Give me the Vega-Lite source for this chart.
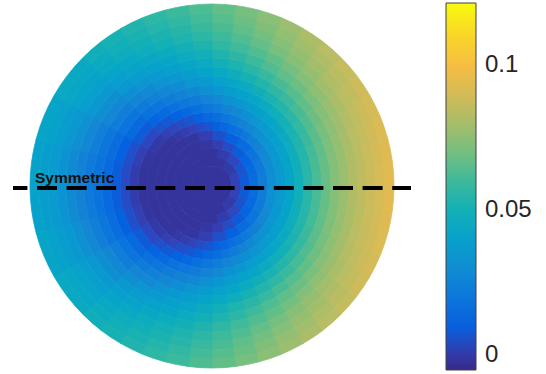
{
"$schema": "https://vega.github.io/schema/vega-lite/v6.json",
"width": 424, "height": 372,
"autosize": {"type": "none"},
"padding": {"left": 0, "top": 0, "right": 122, "bottom": 2},
"background": "white",
"config": {"view": {"stroke": null}},
"datasets": {"cells": [
{"t":-180,"t2":180,"r":0,"r2":20,"v":-0.002},
{"t":0,"t2":30,"r":20,"r2":29,"v":0.0023},{"t":30,"t2":60,"r":20,"r2":29,"v":0.0001},{"t":60,"t2":300,"r":20,"r2":29,"v":-0.002},{"t":-30,"t2":0,"r":20,"r2":29,"v":0.0023},{"t":-60,"t2":-30,"r":20,"r2":29,"v":0.0001},
{"t":0,"t2":20,"r":29,"r2":38,"v":0.0088},{"t":20,"t2":40,"r":29,"r2":38,"v":0.0068},{"t":40,"t2":60,"r":29,"r2":38,"v":0.0038},{"t":60,"t2":80,"r":29,"r2":38,"v":0.0005},{"t":80,"t2":280,"r":29,"r2":38,"v":-0.002},
{"t":-20,"t2":0,"r":29,"r2":38,"v":0.0088},{"t":-40,"t2":-20,"r":29,"r2":38,"v":0.0068},{"t":-60,"t2":-40,"r":29,"r2":38,"v":0.0038},{"t":-80,"t2":-60,"r":29,"r2":38,"v":0.0005},
{"t":0,"t2":15,"r":38,"r2":47,"v":0.0153},{"t":15,"t2":30,"r":38,"r2":47,"v":0.0141},{"t":30,"t2":45,"r":38,"r2":47,"v":0.0115},{"t":45,"t2":60,"r":38,"r2":47,"v":0.0089},{"t":60,"t2":75,"r":38,"r2":47,"v":0.005},{"t":75,"t2":90,"r":38,"r2":47,"v":0.0013},{"t":90,"t2":105,"r":38,"r2":47,"v":-0.0012},{"t":105,"t2":255,"r":38,"r2":47,"v":-0.002},
{"t":-15,"t2":0,"r":38,"r2":47,"v":0.0153},{"t":-30,"t2":-15,"r":38,"r2":47,"v":0.0141},{"t":-45,"t2":-30,"r":38,"r2":47,"v":0.0115},{"t":-60,"t2":-45,"r":38,"r2":47,"v":0.0089},{"t":-75,"t2":-60,"r":38,"r2":47,"v":0.005},{"t":-90,"t2":-75,"r":38,"r2":47,"v":0.0013},{"t":-105,"t2":-90,"r":38,"r2":47,"v":-0.0012},
{"t":0,"t2":15,"r":47,"r2":56,"v":0.0231},{"t":15,"t2":30,"r":47,"r2":56,"v":0.0213},{"t":30,"t2":45,"r":47,"r2":56,"v":0.0187},{"t":45,"t2":60,"r":47,"r2":56,"v":0.0151},{"t":60,"t2":75,"r":47,"r2":56,"v":0.0105},{"t":75,"t2":90,"r":47,"r2":56,"v":0.0059},{"t":90,"t2":105,"r":47,"r2":56,"v":0.0013},{"t":105,"t2":120,"r":47,"r2":56,"v":-0.0014},{"t":120,"t2":240,"r":47,"r2":56,"v":-0.002},
{"t":-15,"t2":0,"r":47,"r2":56,"v":0.0231},{"t":-30,"t2":-15,"r":47,"r2":56,"v":0.0213},{"t":-45,"t2":-30,"r":47,"r2":56,"v":0.0187},{"t":-60,"t2":-45,"r":47,"r2":56,"v":0.0151},{"t":-75,"t2":-60,"r":47,"r2":56,"v":0.0105},{"t":-90,"t2":-75,"r":47,"r2":56,"v":0.0059},{"t":-105,"t2":-90,"r":47,"r2":56,"v":0.0013},{"t":-120,"t2":-105,"r":47,"r2":56,"v":-0.0014},
{"t":0,"t2":7.5,"r":56,"r2":65,"v":0.0313},{"t":7.5,"t2":15,"r":56,"r2":65,"v":0.0309},{"t":15,"t2":22.5,"r":56,"r2":65,"v":0.0302},{"t":22.5,"t2":30,"r":56,"r2":65,"v":0.0291},{"t":30,"t2":37.5,"r":56,"r2":65,"v":0.0276},{"t":37.5,"t2":45,"r":56,"r2":65,"v":0.0257},{"t":45,"t2":52.5,"r":56,"r2":65,"v":0.0236},{"t":52.5,"t2":60,"r":56,"r2":65,"v":0.021},{"t":60,"t2":67.5,"r":56,"r2":65,"v":0.0183},{"t":67.5,"t2":75,"r":56,"r2":65,"v":0.0157},{"t":75,"t2":82.5,"r":56,"r2":65,"v":0.0129},{"t":82.5,"t2":90,"r":56,"r2":65,"v":0.0101},
{"t":90,"t2":97.5,"r":56,"r2":65,"v":0.0074},{"t":97.5,"t2":105,"r":56,"r2":65,"v":0.0049},{"t":105,"t2":112.5,"r":56,"r2":65,"v":0.0026},{"t":112.5,"t2":120,"r":56,"r2":65,"v":0.0007},{"t":120,"t2":127.5,"r":56,"r2":65,"v":-0.0006},{"t":127.5,"t2":135,"r":56,"r2":65,"v":-0.0014},{"t":135,"t2":225,"r":56,"r2":65,"v":-0.002},
{"t":-7.5,"t2":0,"r":56,"r2":65,"v":0.0313},{"t":-15,"t2":-7.5,"r":56,"r2":65,"v":0.0309},{"t":-22.5,"t2":-15,"r":56,"r2":65,"v":0.0302},{"t":-30,"t2":-22.5,"r":56,"r2":65,"v":0.0291},{"t":-37.5,"t2":-30,"r":56,"r2":65,"v":0.0276},{"t":-45,"t2":-37.5,"r":56,"r2":65,"v":0.0257},{"t":-52.5,"t2":-45,"r":56,"r2":65,"v":0.0236},{"t":-60,"t2":-52.5,"r":56,"r2":65,"v":0.021},{"t":-67.5,"t2":-60,"r":56,"r2":65,"v":0.0183},{"t":-75,"t2":-67.5,"r":56,"r2":65,"v":0.0157},{"t":-82.5,"t2":-75,"r":56,"r2":65,"v":0.0129},{"t":-90,"t2":-82.5,"r":56,"r2":65,"v":0.0101},
{"t":-97.5,"t2":-90,"r":56,"r2":65,"v":0.0074},{"t":-105,"t2":-97.5,"r":56,"r2":65,"v":0.0049},{"t":-112.5,"t2":-105,"r":56,"r2":65,"v":0.0026},{"t":-120,"t2":-112.5,"r":56,"r2":65,"v":0.0007},{"t":-127.5,"t2":-120,"r":56,"r2":65,"v":-0.0006},{"t":-135,"t2":-127.5,"r":56,"r2":65,"v":-0.0014},
{"t":0,"t2":7.5,"r":65,"r2":74,"v":0.0365},{"t":7.5,"t2":15,"r":65,"r2":74,"v":0.0362},{"t":15,"t2":22.5,"r":65,"r2":74,"v":0.0357},{"t":22.5,"t2":30,"r":65,"r2":74,"v":0.0351},{"t":30,"t2":37.5,"r":65,"r2":74,"v":0.034},{"t":37.5,"t2":45,"r":65,"r2":74,"v":0.0326},{"t":45,"t2":52.5,"r":65,"r2":74,"v":0.0305},{"t":52.5,"t2":60,"r":65,"r2":74,"v":0.0283},{"t":60,"t2":67.5,"r":65,"r2":74,"v":0.0255},{"t":67.5,"t2":75,"r":65,"r2":74,"v":0.0226},{"t":75,"t2":82.5,"r":65,"r2":74,"v":0.0196},{"t":82.5,"t2":90,"r":65,"r2":74,"v":0.0162},
{"t":90,"t2":97.5,"r":65,"r2":74,"v":0.0132},{"t":97.5,"t2":105,"r":65,"r2":74,"v":0.0103},{"t":105,"t2":112.5,"r":65,"r2":74,"v":0.0076},{"t":112.5,"t2":120,"r":65,"r2":74,"v":0.0055},{"t":120,"t2":127.5,"r":65,"r2":74,"v":0.0035},{"t":127.5,"t2":135,"r":65,"r2":74,"v":0.0017},{"t":135,"t2":150,"r":65,"r2":74,"v":-0.0002},{"t":150,"t2":165,"r":65,"r2":74,"v":-0.0015},{"t":165,"t2":180,"r":65,"r2":74,"v":-0.002},
{"t":-7.5,"t2":0,"r":65,"r2":74,"v":0.0365},{"t":-15,"t2":-7.5,"r":65,"r2":74,"v":0.0362},{"t":-22.5,"t2":-15,"r":65,"r2":74,"v":0.0357},{"t":-30,"t2":-22.5,"r":65,"r2":74,"v":0.0351},{"t":-37.5,"t2":-30,"r":65,"r2":74,"v":0.034},{"t":-45,"t2":-37.5,"r":65,"r2":74,"v":0.0326},{"t":-52.5,"t2":-45,"r":65,"r2":74,"v":0.0305},{"t":-60,"t2":-52.5,"r":65,"r2":74,"v":0.0283},{"t":-67.5,"t2":-60,"r":65,"r2":74,"v":0.0255},{"t":-75,"t2":-67.5,"r":65,"r2":74,"v":0.0226},{"t":-82.5,"t2":-75,"r":65,"r2":74,"v":0.0196},{"t":-90,"t2":-82.5,"r":65,"r2":74,"v":0.0162},
{"t":-97.5,"t2":-90,"r":65,"r2":74,"v":0.0132},{"t":-105,"t2":-97.5,"r":65,"r2":74,"v":0.0103},{"t":-112.5,"t2":-105,"r":65,"r2":74,"v":0.0076},{"t":-120,"t2":-112.5,"r":65,"r2":74,"v":0.0055},{"t":-127.5,"t2":-120,"r":65,"r2":74,"v":0.0035},{"t":-135,"t2":-127.5,"r":65,"r2":74,"v":0.0017},{"t":-150,"t2":-135,"r":65,"r2":74,"v":-0.0002},{"t":-165,"t2":-150,"r":65,"r2":74,"v":-0.0015},{"t":-180,"t2":-165,"r":65,"r2":74,"v":-0.002},
{"t":0,"t2":7.5,"r":74,"r2":83,"v":0.0422},{"t":7.5,"t2":15,"r":74,"r2":83,"v":0.0419},{"t":15,"t2":22.5,"r":74,"r2":83,"v":0.0413},{"t":22.5,"t2":30,"r":74,"r2":83,"v":0.0404},{"t":30,"t2":37.5,"r":74,"r2":83,"v":0.0393},{"t":37.5,"t2":45,"r":74,"r2":83,"v":0.0376},{"t":45,"t2":52.5,"r":74,"r2":83,"v":0.0359},{"t":52.5,"t2":60,"r":74,"r2":83,"v":0.0337},{"t":60,"t2":67.5,"r":74,"r2":83,"v":0.0316},{"t":67.5,"t2":75,"r":74,"r2":83,"v":0.0291},{"t":75,"t2":82.5,"r":74,"r2":83,"v":0.026},{"t":82.5,"t2":90,"r":74,"r2":83,"v":0.0228},
{"t":90,"t2":97.5,"r":74,"r2":83,"v":0.0198},{"t":97.5,"t2":105,"r":74,"r2":83,"v":0.0166},{"t":105,"t2":112.5,"r":74,"r2":83,"v":0.0135},{"t":112.5,"t2":120,"r":74,"r2":83,"v":0.011},{"t":120,"t2":127.5,"r":74,"r2":83,"v":0.0085},{"t":127.5,"t2":135,"r":74,"r2":83,"v":0.0065},{"t":135,"t2":150,"r":74,"r2":83,"v":0.004},{"t":150,"t2":165,"r":74,"r2":83,"v":0.0017},{"t":165,"t2":180,"r":74,"r2":83,"v":0.0005},
{"t":-7.5,"t2":0,"r":74,"r2":83,"v":0.0422},{"t":-15,"t2":-7.5,"r":74,"r2":83,"v":0.0419},{"t":-22.5,"t2":-15,"r":74,"r2":83,"v":0.0413},{"t":-30,"t2":-22.5,"r":74,"r2":83,"v":0.0404},{"t":-37.5,"t2":-30,"r":74,"r2":83,"v":0.0393},{"t":-45,"t2":-37.5,"r":74,"r2":83,"v":0.0376},{"t":-52.5,"t2":-45,"r":74,"r2":83,"v":0.0359},{"t":-60,"t2":-52.5,"r":74,"r2":83,"v":0.0337},{"t":-67.5,"t2":-60,"r":74,"r2":83,"v":0.0316},{"t":-75,"t2":-67.5,"r":74,"r2":83,"v":0.0291},{"t":-82.5,"t2":-75,"r":74,"r2":83,"v":0.026},{"t":-90,"t2":-82.5,"r":74,"r2":83,"v":0.0228},
{"t":-97.5,"t2":-90,"r":74,"r2":83,"v":0.0198},{"t":-105,"t2":-97.5,"r":74,"r2":83,"v":0.0166},{"t":-112.5,"t2":-105,"r":74,"r2":83,"v":0.0135},{"t":-120,"t2":-112.5,"r":74,"r2":83,"v":0.011},{"t":-127.5,"t2":-120,"r":74,"r2":83,"v":0.0085},{"t":-135,"t2":-127.5,"r":74,"r2":83,"v":0.0065},{"t":-150,"t2":-135,"r":74,"r2":83,"v":0.004},{"t":-165,"t2":-150,"r":74,"r2":83,"v":0.0017},{"t":-180,"t2":-165,"r":74,"r2":83,"v":0.0005},
{"t":0,"t2":7.5,"r":83,"r2":92,"v":0.0492},{"t":7.5,"t2":15,"r":83,"r2":92,"v":0.0488},{"t":15,"t2":22.5,"r":83,"r2":92,"v":0.0482},{"t":22.5,"t2":30,"r":83,"r2":92,"v":0.0471},{"t":30,"t2":37.5,"r":83,"r2":92,"v":0.0457},{"t":37.5,"t2":45,"r":83,"r2":92,"v":0.0439},{"t":45,"t2":52.5,"r":83,"r2":92,"v":0.0417},{"t":52.5,"t2":60,"r":83,"r2":92,"v":0.0396},{"t":60,"t2":67.5,"r":83,"r2":92,"v":0.0372},{"t":67.5,"t2":75,"r":83,"r2":92,"v":0.0345},{"t":75,"t2":82.5,"r":83,"r2":92,"v":0.0318},{"t":82.5,"t2":90,"r":83,"r2":92,"v":0.0289},
{"t":90,"t2":97.5,"r":83,"r2":92,"v":0.026},{"t":97.5,"t2":105,"r":83,"r2":92,"v":0.0227},{"t":105,"t2":112.5,"r":83,"r2":92,"v":0.0198},{"t":112.5,"t2":120,"r":83,"r2":92,"v":0.0171},{"t":120,"t2":127.5,"r":83,"r2":92,"v":0.014},{"t":127.5,"t2":135,"r":83,"r2":92,"v":0.0117},{"t":135,"t2":150,"r":83,"r2":92,"v":0.0088},{"t":150,"t2":165,"r":83,"r2":92,"v":0.006},{"t":165,"t2":180,"r":83,"r2":92,"v":0.0047},
{"t":-7.5,"t2":0,"r":83,"r2":92,"v":0.0492},{"t":-15,"t2":-7.5,"r":83,"r2":92,"v":0.0488},{"t":-22.5,"t2":-15,"r":83,"r2":92,"v":0.0482},{"t":-30,"t2":-22.5,"r":83,"r2":92,"v":0.0471},{"t":-37.5,"t2":-30,"r":83,"r2":92,"v":0.0457},{"t":-45,"t2":-37.5,"r":83,"r2":92,"v":0.0439},{"t":-52.5,"t2":-45,"r":83,"r2":92,"v":0.0417},{"t":-60,"t2":-52.5,"r":83,"r2":92,"v":0.0396},{"t":-67.5,"t2":-60,"r":83,"r2":92,"v":0.0372},{"t":-75,"t2":-67.5,"r":83,"r2":92,"v":0.0345},{"t":-82.5,"t2":-75,"r":83,"r2":92,"v":0.0318},{"t":-90,"t2":-82.5,"r":83,"r2":92,"v":0.0289},
{"t":-97.5,"t2":-90,"r":83,"r2":92,"v":0.026},{"t":-105,"t2":-97.5,"r":83,"r2":92,"v":0.0227},{"t":-112.5,"t2":-105,"r":83,"r2":92,"v":0.0198},{"t":-120,"t2":-112.5,"r":83,"r2":92,"v":0.0171},{"t":-127.5,"t2":-120,"r":83,"r2":92,"v":0.014},{"t":-135,"t2":-127.5,"r":83,"r2":92,"v":0.0117},{"t":-150,"t2":-135,"r":83,"r2":92,"v":0.0088},{"t":-165,"t2":-150,"r":83,"r2":92,"v":0.006},{"t":-180,"t2":-165,"r":83,"r2":92,"v":0.0047},
{"t":0,"t2":7.5,"r":92,"r2":101,"v":0.056},{"t":7.5,"t2":15,"r":92,"r2":101,"v":0.0556},{"t":15,"t2":22.5,"r":92,"r2":101,"v":0.0548},{"t":22.5,"t2":30,"r":92,"r2":101,"v":0.0537},{"t":30,"t2":37.5,"r":92,"r2":101,"v":0.0522},{"t":37.5,"t2":45,"r":92,"r2":101,"v":0.0504},{"t":45,"t2":52.5,"r":92,"r2":101,"v":0.0482},{"t":52.5,"t2":60,"r":92,"r2":101,"v":0.0458},{"t":60,"t2":67.5,"r":92,"r2":101,"v":0.0433},{"t":67.5,"t2":75,"r":92,"r2":101,"v":0.0404},{"t":75,"t2":82.5,"r":92,"r2":101,"v":0.0375},{"t":82.5,"t2":90,"r":92,"r2":101,"v":0.0345},
{"t":90,"t2":97.5,"r":92,"r2":101,"v":0.0314},{"t":97.5,"t2":105,"r":92,"r2":101,"v":0.0283},{"t":105,"t2":112.5,"r":92,"r2":101,"v":0.0255},{"t":112.5,"t2":120,"r":92,"r2":101,"v":0.0225},{"t":120,"t2":127.5,"r":92,"r2":101,"v":0.0197},{"t":127.5,"t2":135,"r":92,"r2":101,"v":0.0172},{"t":135,"t2":150,"r":92,"r2":101,"v":0.014},{"t":150,"t2":165,"r":92,"r2":101,"v":0.0107},{"t":165,"t2":180,"r":92,"r2":101,"v":0.0094},
{"t":-7.5,"t2":0,"r":92,"r2":101,"v":0.056},{"t":-15,"t2":-7.5,"r":92,"r2":101,"v":0.0556},{"t":-22.5,"t2":-15,"r":92,"r2":101,"v":0.0548},{"t":-30,"t2":-22.5,"r":92,"r2":101,"v":0.0537},{"t":-37.5,"t2":-30,"r":92,"r2":101,"v":0.0522},{"t":-45,"t2":-37.5,"r":92,"r2":101,"v":0.0504},{"t":-52.5,"t2":-45,"r":92,"r2":101,"v":0.0482},{"t":-60,"t2":-52.5,"r":92,"r2":101,"v":0.0458},{"t":-67.5,"t2":-60,"r":92,"r2":101,"v":0.0433},{"t":-75,"t2":-67.5,"r":92,"r2":101,"v":0.0404},{"t":-82.5,"t2":-75,"r":92,"r2":101,"v":0.0375},{"t":-90,"t2":-82.5,"r":92,"r2":101,"v":0.0345},
{"t":-97.5,"t2":-90,"r":92,"r2":101,"v":0.0314},{"t":-105,"t2":-97.5,"r":92,"r2":101,"v":0.0283},{"t":-112.5,"t2":-105,"r":92,"r2":101,"v":0.0255},{"t":-120,"t2":-112.5,"r":92,"r2":101,"v":0.0225},{"t":-127.5,"t2":-120,"r":92,"r2":101,"v":0.0197},{"t":-135,"t2":-127.5,"r":92,"r2":101,"v":0.0172},{"t":-150,"t2":-135,"r":92,"r2":101,"v":0.014},{"t":-165,"t2":-150,"r":92,"r2":101,"v":0.0107},{"t":-180,"t2":-165,"r":92,"r2":101,"v":0.0094},
{"t":0,"t2":7.5,"r":101,"r2":110,"v":0.0622},{"t":7.5,"t2":15,"r":101,"r2":110,"v":0.0618},{"t":15,"t2":22.5,"r":101,"r2":110,"v":0.061},{"t":22.5,"t2":30,"r":101,"r2":110,"v":0.0598},{"t":30,"t2":37.5,"r":101,"r2":110,"v":0.0581},{"t":37.5,"t2":45,"r":101,"r2":110,"v":0.0563},{"t":45,"t2":52.5,"r":101,"r2":110,"v":0.0541},{"t":52.5,"t2":60,"r":101,"r2":110,"v":0.0516},{"t":60,"t2":67.5,"r":101,"r2":110,"v":0.049},{"t":67.5,"t2":75,"r":101,"r2":110,"v":0.046},{"t":75,"t2":82.5,"r":101,"r2":110,"v":0.043},{"t":82.5,"t2":90,"r":101,"r2":110,"v":0.04},
{"t":90,"t2":97.5,"r":101,"r2":110,"v":0.0367},{"t":97.5,"t2":105,"r":101,"r2":110,"v":0.0336},{"t":105,"t2":112.5,"r":101,"r2":110,"v":0.0304},{"t":112.5,"t2":120,"r":101,"r2":110,"v":0.0273},{"t":120,"t2":127.5,"r":101,"r2":110,"v":0.0246},{"t":127.5,"t2":135,"r":101,"r2":110,"v":0.022},{"t":135,"t2":150,"r":101,"r2":110,"v":0.0186},{"t":150,"t2":165,"r":101,"r2":110,"v":0.0156},{"t":165,"t2":180,"r":101,"r2":110,"v":0.0141},
{"t":-7.5,"t2":0,"r":101,"r2":110,"v":0.0622},{"t":-15,"t2":-7.5,"r":101,"r2":110,"v":0.0618},{"t":-22.5,"t2":-15,"r":101,"r2":110,"v":0.061},{"t":-30,"t2":-22.5,"r":101,"r2":110,"v":0.0598},{"t":-37.5,"t2":-30,"r":101,"r2":110,"v":0.0581},{"t":-45,"t2":-37.5,"r":101,"r2":110,"v":0.0563},{"t":-52.5,"t2":-45,"r":101,"r2":110,"v":0.0541},{"t":-60,"t2":-52.5,"r":101,"r2":110,"v":0.0516},{"t":-67.5,"t2":-60,"r":101,"r2":110,"v":0.049},{"t":-75,"t2":-67.5,"r":101,"r2":110,"v":0.046},{"t":-82.5,"t2":-75,"r":101,"r2":110,"v":0.043},{"t":-90,"t2":-82.5,"r":101,"r2":110,"v":0.04},
{"t":-97.5,"t2":-90,"r":101,"r2":110,"v":0.0367},{"t":-105,"t2":-97.5,"r":101,"r2":110,"v":0.0336},{"t":-112.5,"t2":-105,"r":101,"r2":110,"v":0.0304},{"t":-120,"t2":-112.5,"r":101,"r2":110,"v":0.0273},{"t":-127.5,"t2":-120,"r":101,"r2":110,"v":0.0246},{"t":-135,"t2":-127.5,"r":101,"r2":110,"v":0.022},{"t":-150,"t2":-135,"r":101,"r2":110,"v":0.0186},{"t":-165,"t2":-150,"r":101,"r2":110,"v":0.0156},{"t":-180,"t2":-165,"r":101,"r2":110,"v":0.0141},
{"t":0,"t2":7.5,"r":110,"r2":119,"v":0.0677},{"t":7.5,"t2":15,"r":110,"r2":119,"v":0.0672},{"t":15,"t2":22.5,"r":110,"r2":119,"v":0.0664},{"t":22.5,"t2":30,"r":110,"r2":119,"v":0.0653},{"t":30,"t2":37.5,"r":110,"r2":119,"v":0.0636},{"t":37.5,"t2":45,"r":110,"r2":119,"v":0.0617},{"t":45,"t2":52.5,"r":110,"r2":119,"v":0.0595},{"t":52.5,"t2":60,"r":110,"r2":119,"v":0.0571},{"t":60,"t2":67.5,"r":110,"r2":119,"v":0.0541},{"t":67.5,"t2":75,"r":110,"r2":119,"v":0.0511},{"t":75,"t2":82.5,"r":110,"r2":119,"v":0.048},{"t":82.5,"t2":90,"r":110,"r2":119,"v":0.0449},
{"t":90,"t2":97.5,"r":110,"r2":119,"v":0.0416},{"t":97.5,"t2":105,"r":110,"r2":119,"v":0.0384},{"t":105,"t2":112.5,"r":110,"r2":119,"v":0.0354},{"t":112.5,"t2":120,"r":110,"r2":119,"v":0.0321},{"t":120,"t2":127.5,"r":110,"r2":119,"v":0.0291},{"t":127.5,"t2":135,"r":110,"r2":119,"v":0.0266},{"t":135,"t2":150,"r":110,"r2":119,"v":0.0228},{"t":150,"t2":165,"r":110,"r2":119,"v":0.0195},{"t":165,"t2":180,"r":110,"r2":119,"v":0.0179},
{"t":-7.5,"t2":0,"r":110,"r2":119,"v":0.0677},{"t":-15,"t2":-7.5,"r":110,"r2":119,"v":0.0672},{"t":-22.5,"t2":-15,"r":110,"r2":119,"v":0.0664},{"t":-30,"t2":-22.5,"r":110,"r2":119,"v":0.0653},{"t":-37.5,"t2":-30,"r":110,"r2":119,"v":0.0636},{"t":-45,"t2":-37.5,"r":110,"r2":119,"v":0.0617},{"t":-52.5,"t2":-45,"r":110,"r2":119,"v":0.0595},{"t":-60,"t2":-52.5,"r":110,"r2":119,"v":0.0571},{"t":-67.5,"t2":-60,"r":110,"r2":119,"v":0.0541},{"t":-75,"t2":-67.5,"r":110,"r2":119,"v":0.0511},{"t":-82.5,"t2":-75,"r":110,"r2":119,"v":0.048},{"t":-90,"t2":-82.5,"r":110,"r2":119,"v":0.0449},
{"t":-97.5,"t2":-90,"r":110,"r2":119,"v":0.0416},{"t":-105,"t2":-97.5,"r":110,"r2":119,"v":0.0384},{"t":-112.5,"t2":-105,"r":110,"r2":119,"v":0.0354},{"t":-120,"t2":-112.5,"r":110,"r2":119,"v":0.0321},{"t":-127.5,"t2":-120,"r":110,"r2":119,"v":0.0291},{"t":-135,"t2":-127.5,"r":110,"r2":119,"v":0.0266},{"t":-150,"t2":-135,"r":110,"r2":119,"v":0.0228},{"t":-165,"t2":-150,"r":110,"r2":119,"v":0.0195},{"t":-180,"t2":-165,"r":110,"r2":119,"v":0.0179},
{"t":0,"t2":7.5,"r":119,"r2":128,"v":0.0728},{"t":7.5,"t2":15,"r":119,"r2":128,"v":0.0723},{"t":15,"t2":22.5,"r":119,"r2":128,"v":0.0715},{"t":22.5,"t2":30,"r":119,"r2":128,"v":0.0703},{"t":30,"t2":37.5,"r":119,"r2":128,"v":0.0688},{"t":37.5,"t2":45,"r":119,"r2":128,"v":0.0667},{"t":45,"t2":52.5,"r":119,"r2":128,"v":0.0644},{"t":52.5,"t2":60,"r":119,"r2":128,"v":0.0617},{"t":60,"t2":67.5,"r":119,"r2":128,"v":0.0589},{"t":67.5,"t2":75,"r":119,"r2":128,"v":0.0557},{"t":75,"t2":82.5,"r":119,"r2":128,"v":0.0527},{"t":82.5,"t2":90,"r":119,"r2":128,"v":0.0493},
{"t":90,"t2":97.5,"r":119,"r2":128,"v":0.0458},{"t":97.5,"t2":105,"r":119,"r2":128,"v":0.0426},{"t":105,"t2":112.5,"r":119,"r2":128,"v":0.0396},{"t":112.5,"t2":120,"r":119,"r2":128,"v":0.0365},{"t":120,"t2":127.5,"r":119,"r2":128,"v":0.0336},{"t":127.5,"t2":135,"r":119,"r2":128,"v":0.031},{"t":135,"t2":150,"r":119,"r2":128,"v":0.0271},{"t":150,"t2":165,"r":119,"r2":128,"v":0.0234},{"t":165,"t2":180,"r":119,"r2":128,"v":0.0216},
{"t":-7.5,"t2":0,"r":119,"r2":128,"v":0.0728},{"t":-15,"t2":-7.5,"r":119,"r2":128,"v":0.0723},{"t":-22.5,"t2":-15,"r":119,"r2":128,"v":0.0715},{"t":-30,"t2":-22.5,"r":119,"r2":128,"v":0.0703},{"t":-37.5,"t2":-30,"r":119,"r2":128,"v":0.0688},{"t":-45,"t2":-37.5,"r":119,"r2":128,"v":0.0667},{"t":-52.5,"t2":-45,"r":119,"r2":128,"v":0.0644},{"t":-60,"t2":-52.5,"r":119,"r2":128,"v":0.0617},{"t":-67.5,"t2":-60,"r":119,"r2":128,"v":0.0589},{"t":-75,"t2":-67.5,"r":119,"r2":128,"v":0.0557},{"t":-82.5,"t2":-75,"r":119,"r2":128,"v":0.0527},{"t":-90,"t2":-82.5,"r":119,"r2":128,"v":0.0493},
{"t":-97.5,"t2":-90,"r":119,"r2":128,"v":0.0458},{"t":-105,"t2":-97.5,"r":119,"r2":128,"v":0.0426},{"t":-112.5,"t2":-105,"r":119,"r2":128,"v":0.0396},{"t":-120,"t2":-112.5,"r":119,"r2":128,"v":0.0365},{"t":-127.5,"t2":-120,"r":119,"r2":128,"v":0.0336},{"t":-135,"t2":-127.5,"r":119,"r2":128,"v":0.031},{"t":-150,"t2":-135,"r":119,"r2":128,"v":0.0271},{"t":-165,"t2":-150,"r":119,"r2":128,"v":0.0234},{"t":-180,"t2":-165,"r":119,"r2":128,"v":0.0216},
{"t":0,"t2":7.5,"r":128,"r2":137,"v":0.0772},{"t":7.5,"t2":15,"r":128,"r2":137,"v":0.0767},{"t":15,"t2":22.5,"r":128,"r2":137,"v":0.0759},{"t":22.5,"t2":30,"r":128,"r2":137,"v":0.0746},{"t":30,"t2":37.5,"r":128,"r2":137,"v":0.073},{"t":37.5,"t2":45,"r":128,"r2":137,"v":0.071},{"t":45,"t2":52.5,"r":128,"r2":137,"v":0.0686},{"t":52.5,"t2":60,"r":128,"r2":137,"v":0.0661},{"t":60,"t2":67.5,"r":128,"r2":137,"v":0.0633},{"t":67.5,"t2":75,"r":128,"r2":137,"v":0.06},{"t":75,"t2":82.5,"r":128,"r2":137,"v":0.0566},{"t":82.5,"t2":90,"r":128,"r2":137,"v":0.0532},
{"t":90,"t2":97.5,"r":128,"r2":137,"v":0.0498},{"t":97.5,"t2":105,"r":128,"r2":137,"v":0.0464},{"t":105,"t2":112.5,"r":128,"r2":137,"v":0.0432},{"t":112.5,"t2":120,"r":128,"r2":137,"v":0.0403},{"t":120,"t2":127.5,"r":128,"r2":137,"v":0.0376},{"t":127.5,"t2":135,"r":128,"r2":137,"v":0.0348},{"t":135,"t2":150,"r":128,"r2":137,"v":0.0312},{"t":150,"t2":165,"r":128,"r2":137,"v":0.0276},{"t":165,"t2":180,"r":128,"r2":137,"v":0.0257},
{"t":-7.5,"t2":0,"r":128,"r2":137,"v":0.0772},{"t":-15,"t2":-7.5,"r":128,"r2":137,"v":0.0767},{"t":-22.5,"t2":-15,"r":128,"r2":137,"v":0.0759},{"t":-30,"t2":-22.5,"r":128,"r2":137,"v":0.0746},{"t":-37.5,"t2":-30,"r":128,"r2":137,"v":0.073},{"t":-45,"t2":-37.5,"r":128,"r2":137,"v":0.071},{"t":-52.5,"t2":-45,"r":128,"r2":137,"v":0.0686},{"t":-60,"t2":-52.5,"r":128,"r2":137,"v":0.0661},{"t":-67.5,"t2":-60,"r":128,"r2":137,"v":0.0633},{"t":-75,"t2":-67.5,"r":128,"r2":137,"v":0.06},{"t":-82.5,"t2":-75,"r":128,"r2":137,"v":0.0566},{"t":-90,"t2":-82.5,"r":128,"r2":137,"v":0.0532},
{"t":-97.5,"t2":-90,"r":128,"r2":137,"v":0.0498},{"t":-105,"t2":-97.5,"r":128,"r2":137,"v":0.0464},{"t":-112.5,"t2":-105,"r":128,"r2":137,"v":0.0432},{"t":-120,"t2":-112.5,"r":128,"r2":137,"v":0.0403},{"t":-127.5,"t2":-120,"r":128,"r2":137,"v":0.0376},{"t":-135,"t2":-127.5,"r":128,"r2":137,"v":0.0348},{"t":-150,"t2":-135,"r":128,"r2":137,"v":0.0312},{"t":-165,"t2":-150,"r":128,"r2":137,"v":0.0276},{"t":-180,"t2":-165,"r":128,"r2":137,"v":0.0257},
{"t":0,"t2":7.5,"r":137,"r2":146,"v":0.0814},{"t":7.5,"t2":15,"r":137,"r2":146,"v":0.0809},{"t":15,"t2":22.5,"r":137,"r2":146,"v":0.0801},{"t":22.5,"t2":30,"r":137,"r2":146,"v":0.0787},{"t":30,"t2":37.5,"r":137,"r2":146,"v":0.0771},{"t":37.5,"t2":45,"r":137,"r2":146,"v":0.075},{"t":45,"t2":52.5,"r":137,"r2":146,"v":0.0725},{"t":52.5,"t2":60,"r":137,"r2":146,"v":0.0698},{"t":60,"t2":67.5,"r":137,"r2":146,"v":0.0668},{"t":67.5,"t2":75,"r":137,"r2":146,"v":0.0636},{"t":75,"t2":82.5,"r":137,"r2":146,"v":0.0603},{"t":82.5,"t2":90,"r":137,"r2":146,"v":0.057},
{"t":90,"t2":97.5,"r":137,"r2":146,"v":0.0533},{"t":97.5,"t2":105,"r":137,"r2":146,"v":0.0498},{"t":105,"t2":112.5,"r":137,"r2":146,"v":0.0468},{"t":112.5,"t2":120,"r":137,"r2":146,"v":0.0439},{"t":120,"t2":127.5,"r":137,"r2":146,"v":0.0411},{"t":127.5,"t2":135,"r":137,"r2":146,"v":0.0383},{"t":135,"t2":150,"r":137,"r2":146,"v":0.0348},{"t":150,"t2":165,"r":137,"r2":146,"v":0.0314},{"t":165,"t2":180,"r":137,"r2":146,"v":0.0294},
{"t":-7.5,"t2":0,"r":137,"r2":146,"v":0.0814},{"t":-15,"t2":-7.5,"r":137,"r2":146,"v":0.0809},{"t":-22.5,"t2":-15,"r":137,"r2":146,"v":0.0801},{"t":-30,"t2":-22.5,"r":137,"r2":146,"v":0.0787},{"t":-37.5,"t2":-30,"r":137,"r2":146,"v":0.0771},{"t":-45,"t2":-37.5,"r":137,"r2":146,"v":0.075},{"t":-52.5,"t2":-45,"r":137,"r2":146,"v":0.0725},{"t":-60,"t2":-52.5,"r":137,"r2":146,"v":0.0698},{"t":-67.5,"t2":-60,"r":137,"r2":146,"v":0.0668},{"t":-75,"t2":-67.5,"r":137,"r2":146,"v":0.0636},{"t":-82.5,"t2":-75,"r":137,"r2":146,"v":0.0603},{"t":-90,"t2":-82.5,"r":137,"r2":146,"v":0.057},
{"t":-97.5,"t2":-90,"r":137,"r2":146,"v":0.0533},{"t":-105,"t2":-97.5,"r":137,"r2":146,"v":0.0498},{"t":-112.5,"t2":-105,"r":137,"r2":146,"v":0.0468},{"t":-120,"t2":-112.5,"r":137,"r2":146,"v":0.0439},{"t":-127.5,"t2":-120,"r":137,"r2":146,"v":0.0411},{"t":-135,"t2":-127.5,"r":137,"r2":146,"v":0.0383},{"t":-150,"t2":-135,"r":137,"r2":146,"v":0.0348},{"t":-165,"t2":-150,"r":137,"r2":146,"v":0.0314},{"t":-180,"t2":-165,"r":137,"r2":146,"v":0.0294},
{"t":0,"t2":7.5,"r":146,"r2":155,"v":0.085},{"t":7.5,"t2":15,"r":146,"r2":155,"v":0.0845},{"t":15,"t2":22.5,"r":146,"r2":155,"v":0.0836},{"t":22.5,"t2":30,"r":146,"r2":155,"v":0.0824},{"t":30,"t2":37.5,"r":146,"r2":155,"v":0.0807},{"t":37.5,"t2":45,"r":146,"r2":155,"v":0.0786},{"t":45,"t2":52.5,"r":146,"r2":155,"v":0.0761},{"t":52.5,"t2":60,"r":146,"r2":155,"v":0.0733},{"t":60,"t2":67.5,"r":146,"r2":155,"v":0.0702},{"t":67.5,"t2":75,"r":146,"r2":155,"v":0.0669},{"t":75,"t2":82.5,"r":146,"r2":155,"v":0.0634},{"t":82.5,"t2":90,"r":146,"r2":155,"v":0.0599},
{"t":90,"t2":97.5,"r":146,"r2":155,"v":0.0563},{"t":97.5,"t2":105,"r":146,"r2":155,"v":0.0529},{"t":105,"t2":112.5,"r":146,"r2":155,"v":0.0501},{"t":112.5,"t2":120,"r":146,"r2":155,"v":0.0471},{"t":120,"t2":127.5,"r":146,"r2":155,"v":0.0441},{"t":127.5,"t2":135,"r":146,"r2":155,"v":0.0415},{"t":135,"t2":150,"r":146,"r2":155,"v":0.0381},{"t":150,"t2":165,"r":146,"r2":155,"v":0.0347},{"t":165,"t2":180,"r":146,"r2":155,"v":0.0327},
{"t":-7.5,"t2":0,"r":146,"r2":155,"v":0.085},{"t":-15,"t2":-7.5,"r":146,"r2":155,"v":0.0845},{"t":-22.5,"t2":-15,"r":146,"r2":155,"v":0.0836},{"t":-30,"t2":-22.5,"r":146,"r2":155,"v":0.0824},{"t":-37.5,"t2":-30,"r":146,"r2":155,"v":0.0807},{"t":-45,"t2":-37.5,"r":146,"r2":155,"v":0.0786},{"t":-52.5,"t2":-45,"r":146,"r2":155,"v":0.0761},{"t":-60,"t2":-52.5,"r":146,"r2":155,"v":0.0733},{"t":-67.5,"t2":-60,"r":146,"r2":155,"v":0.0702},{"t":-75,"t2":-67.5,"r":146,"r2":155,"v":0.0669},{"t":-82.5,"t2":-75,"r":146,"r2":155,"v":0.0634},{"t":-90,"t2":-82.5,"r":146,"r2":155,"v":0.0599},
{"t":-97.5,"t2":-90,"r":146,"r2":155,"v":0.0563},{"t":-105,"t2":-97.5,"r":146,"r2":155,"v":0.0529},{"t":-112.5,"t2":-105,"r":146,"r2":155,"v":0.0501},{"t":-120,"t2":-112.5,"r":146,"r2":155,"v":0.0471},{"t":-127.5,"t2":-120,"r":146,"r2":155,"v":0.0441},{"t":-135,"t2":-127.5,"r":146,"r2":155,"v":0.0415},{"t":-150,"t2":-135,"r":146,"r2":155,"v":0.0381},{"t":-165,"t2":-150,"r":146,"r2":155,"v":0.0347},{"t":-180,"t2":-165,"r":146,"r2":155,"v":0.0327},
{"t":0,"t2":7.5,"r":155,"r2":164,"v":0.0879},{"t":7.5,"t2":15,"r":155,"r2":164,"v":0.0875},{"t":15,"t2":22.5,"r":155,"r2":164,"v":0.0866},{"t":22.5,"t2":30,"r":155,"r2":164,"v":0.0853},{"t":30,"t2":37.5,"r":155,"r2":164,"v":0.0837},{"t":37.5,"t2":45,"r":155,"r2":164,"v":0.0816},{"t":45,"t2":52.5,"r":155,"r2":164,"v":0.079},{"t":52.5,"t2":60,"r":155,"r2":164,"v":0.0762},{"t":60,"t2":67.5,"r":155,"r2":164,"v":0.0731},{"t":67.5,"t2":75,"r":155,"r2":164,"v":0.0698},{"t":75,"t2":82.5,"r":155,"r2":164,"v":0.0663},{"t":82.5,"t2":90,"r":155,"r2":164,"v":0.0626},
{"t":90,"t2":97.5,"r":155,"r2":164,"v":0.0589},{"t":97.5,"t2":105,"r":155,"r2":164,"v":0.0554},{"t":105,"t2":112.5,"r":155,"r2":164,"v":0.0525},{"t":112.5,"t2":120,"r":155,"r2":164,"v":0.0497},{"t":120,"t2":127.5,"r":155,"r2":164,"v":0.0471},{"t":127.5,"t2":135,"r":155,"r2":164,"v":0.0447},{"t":135,"t2":150,"r":155,"r2":164,"v":0.0411},{"t":150,"t2":165,"r":155,"r2":164,"v":0.0376},{"t":165,"t2":180,"r":155,"r2":164,"v":0.0358},
{"t":-7.5,"t2":0,"r":155,"r2":164,"v":0.0879},{"t":-15,"t2":-7.5,"r":155,"r2":164,"v":0.0875},{"t":-22.5,"t2":-15,"r":155,"r2":164,"v":0.0866},{"t":-30,"t2":-22.5,"r":155,"r2":164,"v":0.0853},{"t":-37.5,"t2":-30,"r":155,"r2":164,"v":0.0837},{"t":-45,"t2":-37.5,"r":155,"r2":164,"v":0.0816},{"t":-52.5,"t2":-45,"r":155,"r2":164,"v":0.079},{"t":-60,"t2":-52.5,"r":155,"r2":164,"v":0.0762},{"t":-67.5,"t2":-60,"r":155,"r2":164,"v":0.0731},{"t":-75,"t2":-67.5,"r":155,"r2":164,"v":0.0698},{"t":-82.5,"t2":-75,"r":155,"r2":164,"v":0.0663},{"t":-90,"t2":-82.5,"r":155,"r2":164,"v":0.0626},
{"t":-97.5,"t2":-90,"r":155,"r2":164,"v":0.0589},{"t":-105,"t2":-97.5,"r":155,"r2":164,"v":0.0554},{"t":-112.5,"t2":-105,"r":155,"r2":164,"v":0.0525},{"t":-120,"t2":-112.5,"r":155,"r2":164,"v":0.0497},{"t":-127.5,"t2":-120,"r":155,"r2":164,"v":0.0471},{"t":-135,"t2":-127.5,"r":155,"r2":164,"v":0.0447},{"t":-150,"t2":-135,"r":155,"r2":164,"v":0.0411},{"t":-165,"t2":-150,"r":155,"r2":164,"v":0.0376},{"t":-180,"t2":-165,"r":155,"r2":164,"v":0.0358},
{"t":0,"t2":7.5,"r":164,"r2":173,"v":0.0906},{"t":7.5,"t2":15,"r":164,"r2":173,"v":0.0901},{"t":15,"t2":22.5,"r":164,"r2":173,"v":0.0892},{"t":22.5,"t2":30,"r":164,"r2":173,"v":0.0879},{"t":30,"t2":37.5,"r":164,"r2":173,"v":0.0861},{"t":37.5,"t2":45,"r":164,"r2":173,"v":0.0839},{"t":45,"t2":52.5,"r":164,"r2":173,"v":0.0814},{"t":52.5,"t2":60,"r":164,"r2":173,"v":0.0786},{"t":60,"t2":67.5,"r":164,"r2":173,"v":0.0755},{"t":67.5,"t2":75,"r":164,"r2":173,"v":0.0722},{"t":75,"t2":82.5,"r":164,"r2":173,"v":0.0685},{"t":82.5,"t2":90,"r":164,"r2":173,"v":0.0649},
{"t":90,"t2":97.5,"r":164,"r2":173,"v":0.0611},{"t":97.5,"t2":105,"r":164,"r2":173,"v":0.0577},{"t":105,"t2":112.5,"r":164,"r2":173,"v":0.0548},{"t":112.5,"t2":120,"r":164,"r2":173,"v":0.052},{"t":120,"t2":127.5,"r":164,"r2":173,"v":0.0493},{"t":127.5,"t2":135,"r":164,"r2":173,"v":0.0468},{"t":135,"t2":150,"r":164,"r2":173,"v":0.0435},{"t":150,"t2":165,"r":164,"r2":173,"v":0.0403},{"t":165,"t2":180,"r":164,"r2":173,"v":0.0385},
{"t":-7.5,"t2":0,"r":164,"r2":173,"v":0.0906},{"t":-15,"t2":-7.5,"r":164,"r2":173,"v":0.0901},{"t":-22.5,"t2":-15,"r":164,"r2":173,"v":0.0892},{"t":-30,"t2":-22.5,"r":164,"r2":173,"v":0.0879},{"t":-37.5,"t2":-30,"r":164,"r2":173,"v":0.0861},{"t":-45,"t2":-37.5,"r":164,"r2":173,"v":0.0839},{"t":-52.5,"t2":-45,"r":164,"r2":173,"v":0.0814},{"t":-60,"t2":-52.5,"r":164,"r2":173,"v":0.0786},{"t":-67.5,"t2":-60,"r":164,"r2":173,"v":0.0755},{"t":-75,"t2":-67.5,"r":164,"r2":173,"v":0.0722},{"t":-82.5,"t2":-75,"r":164,"r2":173,"v":0.0685},{"t":-90,"t2":-82.5,"r":164,"r2":173,"v":0.0649},
{"t":-97.5,"t2":-90,"r":164,"r2":173,"v":0.0611},{"t":-105,"t2":-97.5,"r":164,"r2":173,"v":0.0577},{"t":-112.5,"t2":-105,"r":164,"r2":173,"v":0.0548},{"t":-120,"t2":-112.5,"r":164,"r2":173,"v":0.052},{"t":-127.5,"t2":-120,"r":164,"r2":173,"v":0.0493},{"t":-135,"t2":-127.5,"r":164,"r2":173,"v":0.0468},{"t":-150,"t2":-135,"r":164,"r2":173,"v":0.0435},{"t":-165,"t2":-150,"r":164,"r2":173,"v":0.0403},{"t":-180,"t2":-165,"r":164,"r2":173,"v":0.0385},
{"t":0,"t2":7.5,"r":173,"r2":182,"v":0.0932},{"t":7.5,"t2":15,"r":173,"r2":182,"v":0.0927},{"t":15,"t2":22.5,"r":173,"r2":182,"v":0.0917},{"t":22.5,"t2":30,"r":173,"r2":182,"v":0.0903},{"t":30,"t2":37.5,"r":173,"r2":182,"v":0.0885},{"t":37.5,"t2":45,"r":173,"r2":182,"v":0.0863},{"t":45,"t2":52.5,"r":173,"r2":182,"v":0.0837},{"t":52.5,"t2":60,"r":173,"r2":182,"v":0.0807},{"t":60,"t2":67.5,"r":173,"r2":182,"v":0.0775},{"t":67.5,"t2":75,"r":173,"r2":182,"v":0.074},{"t":75,"t2":82.5,"r":173,"r2":182,"v":0.0704},{"t":82.5,"t2":90,"r":173,"r2":182,"v":0.0667},
{"t":90,"t2":97.5,"r":173,"r2":182,"v":0.0629},{"t":97.5,"t2":105,"r":173,"r2":182,"v":0.0595},{"t":105,"t2":112.5,"r":173,"r2":182,"v":0.0567},{"t":112.5,"t2":120,"r":173,"r2":182,"v":0.0539},{"t":120,"t2":127.5,"r":173,"r2":182,"v":0.0513},{"t":127.5,"t2":135,"r":173,"r2":182,"v":0.0489},{"t":135,"t2":150,"r":173,"r2":182,"v":0.0455},{"t":150,"t2":165,"r":173,"r2":182,"v":0.0422},{"t":165,"t2":180,"r":173,"r2":182,"v":0.0405},
{"t":-7.5,"t2":0,"r":173,"r2":182,"v":0.0932},{"t":-15,"t2":-7.5,"r":173,"r2":182,"v":0.0927},{"t":-22.5,"t2":-15,"r":173,"r2":182,"v":0.0917},{"t":-30,"t2":-22.5,"r":173,"r2":182,"v":0.0903},{"t":-37.5,"t2":-30,"r":173,"r2":182,"v":0.0885},{"t":-45,"t2":-37.5,"r":173,"r2":182,"v":0.0863},{"t":-52.5,"t2":-45,"r":173,"r2":182,"v":0.0837},{"t":-60,"t2":-52.5,"r":173,"r2":182,"v":0.0807},{"t":-67.5,"t2":-60,"r":173,"r2":182,"v":0.0775},{"t":-75,"t2":-67.5,"r":173,"r2":182,"v":0.074},{"t":-82.5,"t2":-75,"r":173,"r2":182,"v":0.0704},{"t":-90,"t2":-82.5,"r":173,"r2":182,"v":0.0667},
{"t":-97.5,"t2":-90,"r":173,"r2":182,"v":0.0629},{"t":-105,"t2":-97.5,"r":173,"r2":182,"v":0.0595},{"t":-112.5,"t2":-105,"r":173,"r2":182,"v":0.0567},{"t":-120,"t2":-112.5,"r":173,"r2":182,"v":0.0539},{"t":-127.5,"t2":-120,"r":173,"r2":182,"v":0.0513},{"t":-135,"t2":-127.5,"r":173,"r2":182,"v":0.0489},{"t":-150,"t2":-135,"r":173,"r2":182,"v":0.0455},{"t":-165,"t2":-150,"r":173,"r2":182,"v":0.0422},{"t":-180,"t2":-165,"r":173,"r2":182,"v":0.0405}
]},
"layer": [
{
"data": {"name": "cells"},
"mark": {"type": "arc", "strokeWidth": 0.8},
"encoding": {
"theta": {"field": "t", "type": "quantitative", "stack": null, "scale": {"type": "linear", "domain": [90, -270], "range": [0, 6.283185307179586], "zero": false, "nice": false}},
"theta2": {"field": "t2"},
"radius": {"field": "r", "type": "quantitative", "stack": null, "scale": {"type": "linear", "domain": [0, 182], "range": [0, 182], "zero": true, "nice": false}},
"radius2": {"field": "r2"},
"color": {"field": "v", "type": "quantitative",
"scale": {"type": "linear", "domain": [-0.0052,0.00271,0.01063,0.01854,0.02645,0.03436,0.04228,0.05019,0.0581,0.06601,0.07393,0.08184,0.08975,0.09766,0.10558,0.11349,0.1214], "range": ["#352a87","#3243ba","#0462e0","#0c74dd","#1484d4","#0a97d1","#06a5c8","#13b0b6","#33b8a1","#5ebe89","#8bbf75","#b1bd66","#d3bb58","#f2b948","#fec932","#f5df21","#f9fb0e"], "interpolate": "rgb", "clamp": true},
"legend": {"title": null, "orient": "none", "legendX": 446, "legendY": 3, "direction": "vertical", "gradientLength": 367, "gradientThickness": 30, "values": [0, 0.05, 0.1], "format": "~g", "labelFontSize": 24, "labelFont": "Liberation Sans", "labelColor": "#262626", "labelOffset": 9, "labelOverlap": false, "gradientStrokeColor": "#404040", "gradientStrokeWidth": 1}},
"stroke": {"field": "v", "type": "quantitative",
"scale": {"type": "linear", "domain": [-0.00521,0.00271,0.01063,0.01854,0.02645,0.03436,0.04228,0.05019,0.0581,0.06601,0.07393,0.08184,0.08975,0.09766,0.10558,0.11349,0.12141], "range": ["#352a87","#3243ba","#0462e0","#0c74dd","#1484d4","#0a97d1","#06a5c8","#13b0b6","#33b8a1","#5ebe89","#8bbf75","#b1bd66","#d3bb58","#f2b948","#fec932","#f5df21","#f9fb0e"], "interpolate": "rgb", "clamp": true},
"legend": null}
}
},
{
"data": {"values": [{"xa": -199, "xb": 199, "y": -2}]},
"mark": {"type": "rule", "color": "black", "strokeWidth": 3.8, "strokeDash": [20, 9.6], "strokeDashOffset": 5.6},
"encoding": {
"x": {"field": "xa", "type": "quantitative", "axis": null, "scale": {"domain": [-212, 212], "nice": false, "zero": false}},
"x2": {"field": "xb"},
"y": {"field": "y", "type": "quantitative", "axis": null, "scale": {"domain": [-186, 186], "nice": false, "zero": false}}
}
},
{
"data": {"values": [{"x": -177, "y": 3.3, "label": "Symmetric"}]},
"mark": {"type": "text", "align": "left", "baseline": "alphabetic", "font": "Liberation Sans", "fontSize": 15.5, "fontWeight": "bold", "color": "#111111"},
"encoding": {
"x": {"field": "x", "type": "quantitative", "axis": null, "scale": {"domain": [-212, 212], "nice": false, "zero": false}},
"y": {"field": "y", "type": "quantitative", "axis": null, "scale": {"domain": [-186, 186], "nice": false, "zero": false}},
"text": {"field": "label", "type": "nominal"}
}
}
]
}
